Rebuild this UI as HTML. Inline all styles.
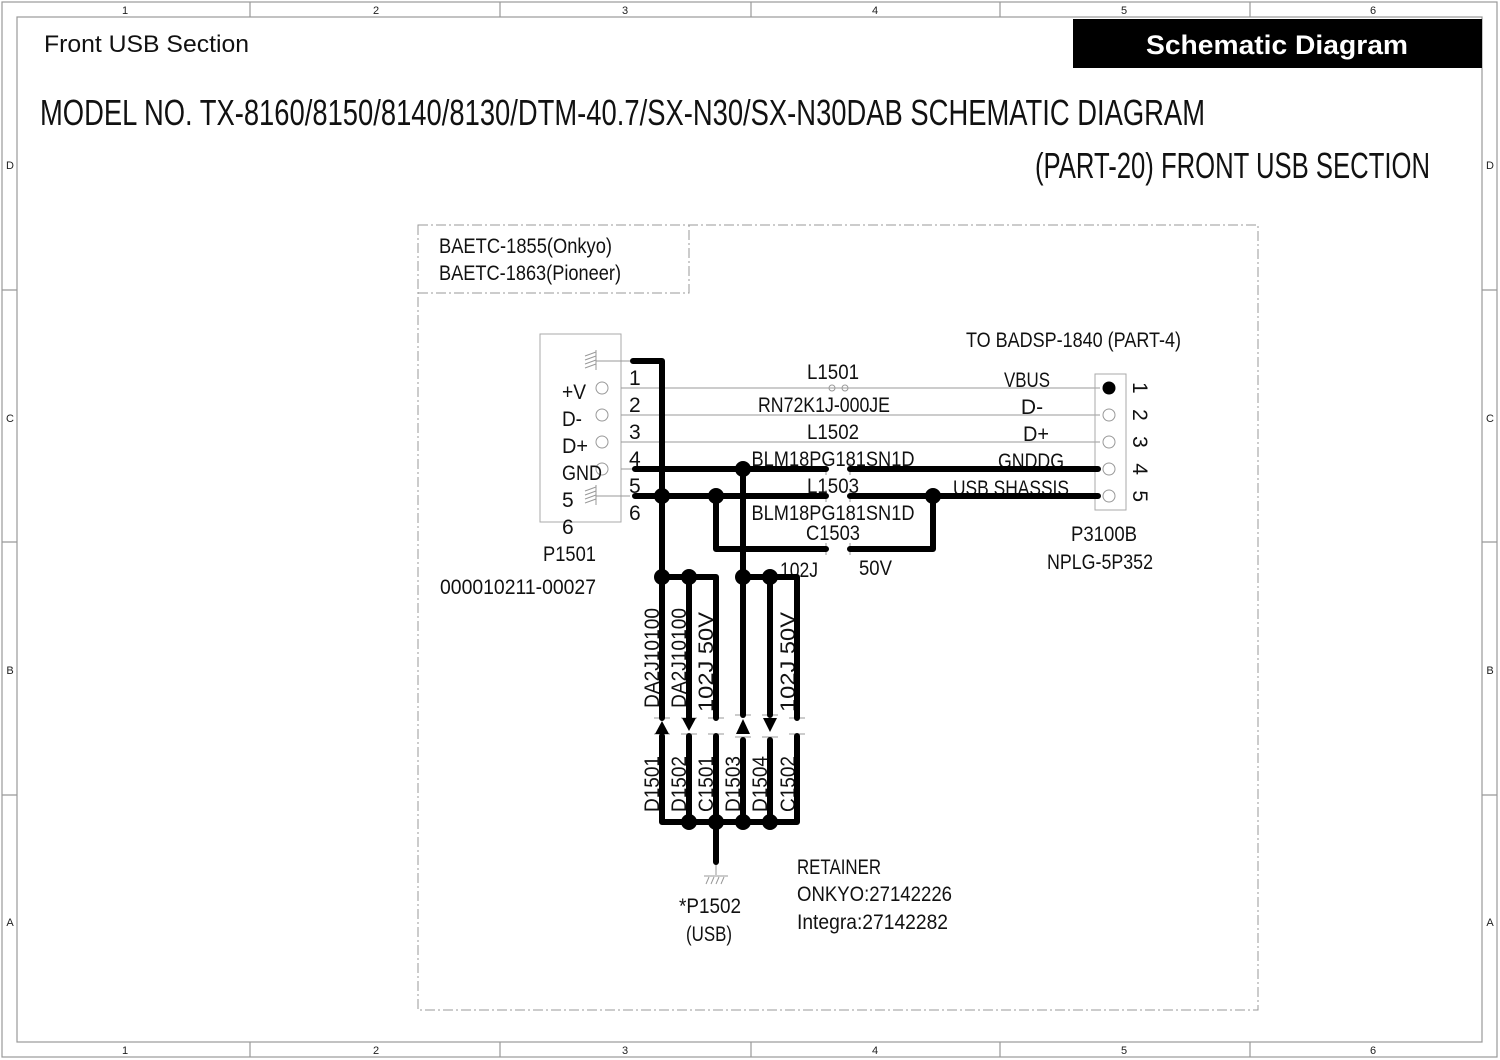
<!DOCTYPE html>
<html><head><meta charset="utf-8"><style>
html,body{margin:0;padding:0;background:#fff;}
svg{display:block;}
.n{font-family:"Liberation Sans Narrow","Liberation Sans",sans-serif;fill:#111;}
.s{font-family:"Liberation Sans",sans-serif;}
</style></head><body>
<svg width="1500" height="1060" viewBox="0 0 1500 1060" xmlns="http://www.w3.org/2000/svg">
<g fill="none" stroke="#999" stroke-width="1.2">
<rect x="2" y="2" width="1495" height="1055"/>
<rect x="17" y="17" width="1465" height="1025"/>
<path d="M250 2V17M500 2V17M751 2V17M1000 2V17M1250 2V17M250 1042V1057M500 1042V1057M751 1042V1057M1000 1042V1057M1250 1042V1057M2 290H17M2 542H17M2 795H17M1482 290H1497M1482 542H1497M1482 795H1497"/>
</g>
<g class="s" font-size="11" fill="#222" text-anchor="middle">
<text x="125" y="14">1</text><text x="376" y="14">2</text><text x="625" y="14">3</text><text x="875" y="14">4</text><text x="1124" y="14">5</text><text x="1373" y="14">6</text>
<text x="125" y="1054">1</text><text x="376" y="1054">2</text><text x="625" y="1054">3</text><text x="875" y="1054">4</text><text x="1124" y="1054">5</text><text x="1373" y="1054">6</text>
<text x="10" y="169">D</text><text x="10" y="422">C</text><text x="10" y="674">B</text><text x="10" y="926">A</text>
<text x="1490" y="169">D</text><text x="1490" y="422">C</text><text x="1490" y="674">B</text><text x="1490" y="926">A</text>
</g>
<text class="s" x="44" y="52" font-size="24" fill="#111" textLength="205" lengthAdjust="spacingAndGlyphs">Front USB Section</text>
<rect x="1073" y="19" width="409" height="49" fill="#000"/>
<text class="s" x="1277" y="54" font-size="27" font-weight="bold" fill="#fff" text-anchor="middle" textLength="262" lengthAdjust="spacingAndGlyphs">Schematic Diagram</text>
<text class="n" x="40" y="125" font-size="36" textLength="1165" lengthAdjust="spacingAndGlyphs">MODEL NO. TX-8160/8150/8140/8130/DTM-40.7/SX-N30/SX-N30DAB SCHEMATIC DIAGRAM</text>
<text class="n" x="1035" y="178" font-size="36" textLength="395" lengthAdjust="spacingAndGlyphs">(PART-20) FRONT USB SECTION</text>
<g fill="none" stroke="#999" stroke-width="1" stroke-dasharray="10,3,2,3">
<rect x="418" y="225" width="840" height="785"/>
<path d="M418 293H689V225"/>
</g>
<g class="n" font-size="21">
<text x="439" y="253" textLength="173" lengthAdjust="spacingAndGlyphs">BAETC-1855(Onkyo)</text>
<text x="439" y="280" textLength="182" lengthAdjust="spacingAndGlyphs">BAETC-1863(Pioneer)</text>
<text x="966" y="347" textLength="215" lengthAdjust="spacingAndGlyphs">TO BADSP-1840 (PART-4)</text>
</g>
<rect x="540" y="334" width="81" height="188" fill="none" stroke="#aaa"/>
<g fill="none" stroke="#999" stroke-width="1">
<circle cx="602" cy="388" r="6"/><circle cx="602" cy="415" r="6"/><circle cx="602" cy="442" r="6"/><circle cx="602" cy="469" r="6"/>
<path d="M596 352L585 356M596 356L585 360M596 360L585 364M596 364L585 368M596 350V370M596 361H630"/>
<path d="M596 487L585 491M596 491L585 495M596 495L585 499M596 499L585 503M596 485V505M596 496H630"/>
<path d="M621 388H1100M621 415H1100M621 442H1100M621 469H633"/>
<circle cx="832" cy="388" r="3"/><circle cx="845" cy="388" r="3"/>
<path d="M1095 374H1126V510H1095Z" stroke="#aaa"/>
<circle cx="1109" cy="415" r="6"/><circle cx="1109" cy="442" r="6"/><circle cx="1109" cy="469" r="6"/><circle cx="1109" cy="496" r="6"/>
<path d="M826 463V475M850 463V475M826 490V502M850 490V502M826 543V555M850 543V555"/>
<path d="M654 718H670M654 734H670M681 718H697M681 734H697M708 718H724M708 734H724M735 715H751M735 737H751M762 715H778M762 737H778M789 718H805M789 734H805"/>
<path d="M716 862V875M704 876H728M706 884L709 877M711 884L714 877M716 884L719 877M721 884L724 877"/>
</g>
<circle cx="1109" cy="388" r="6.5" fill="#000"/>
<g class="n" font-size="21">
<text x="562" y="399" textLength="24" lengthAdjust="spacingAndGlyphs">+V</text><text x="562" y="426" textLength="20" lengthAdjust="spacingAndGlyphs">D-</text><text x="562" y="453" textLength="26" lengthAdjust="spacingAndGlyphs">D+</text><text x="562" y="480" textLength="40" lengthAdjust="spacingAndGlyphs">GND</text><text x="562" y="507">5</text><text x="562" y="534">6</text>
<text x="629" y="385">1</text><text x="629" y="412">2</text><text x="629" y="439">3</text><text x="629" y="466">4</text><text x="629" y="493">5</text><text x="629" y="520">6</text>
<text x="543" y="561" textLength="53" lengthAdjust="spacingAndGlyphs">P1501</text>
<text x="440" y="594" textLength="156" lengthAdjust="spacingAndGlyphs">000010211-00027</text>
<text x="833" y="379" text-anchor="middle" textLength="52" lengthAdjust="spacingAndGlyphs">L1501</text>
<text x="824" y="412" text-anchor="middle" textLength="132" lengthAdjust="spacingAndGlyphs">RN72K1J-000JE</text>
<text x="833" y="439" text-anchor="middle" textLength="52" lengthAdjust="spacingAndGlyphs">L1502</text>
<text x="833" y="466" text-anchor="middle" textLength="163" lengthAdjust="spacingAndGlyphs">BLM18PG181SN1D</text>
<text x="833" y="493" text-anchor="middle" textLength="52" lengthAdjust="spacingAndGlyphs">L1503</text>
<text x="833" y="520" text-anchor="middle" textLength="163" lengthAdjust="spacingAndGlyphs">BLM18PG181SN1D</text>
<text x="833" y="540" text-anchor="middle" textLength="54" lengthAdjust="spacingAndGlyphs">C1503</text>
<text x="780" y="577" textLength="38" lengthAdjust="spacingAndGlyphs">102J</text><text x="859" y="575" textLength="33" lengthAdjust="spacingAndGlyphs">50V</text>
<text x="1027" y="387" text-anchor="middle" textLength="46" lengthAdjust="spacingAndGlyphs">VBUS</text>
<text x="1032" y="414" text-anchor="middle">D-</text>
<text x="1036" y="441" text-anchor="middle" textLength="26" lengthAdjust="spacingAndGlyphs">D+</text>
<text x="1031" y="468" text-anchor="middle" textLength="66" lengthAdjust="spacingAndGlyphs">GNDDG</text>
<text x="1011" y="495" text-anchor="middle" textLength="116" lengthAdjust="spacingAndGlyphs">USB  SHASSIS</text>
<text x="1104" y="541" text-anchor="middle" textLength="66" lengthAdjust="spacingAndGlyphs">P3100B</text>
<text x="1100" y="569" text-anchor="middle" textLength="106" lengthAdjust="spacingAndGlyphs">NPLG-5P352</text>
<text x="710" y="913" text-anchor="middle" textLength="62" lengthAdjust="spacingAndGlyphs">*P1502</text>
<text x="709" y="941" text-anchor="middle" textLength="46" lengthAdjust="spacingAndGlyphs">(USB)</text>
<text x="797" y="874" textLength="84" lengthAdjust="spacingAndGlyphs">RETAINER</text>
<text x="797" y="901" textLength="155" lengthAdjust="spacingAndGlyphs">ONKYO:27142226</text>
<text x="797" y="929" textLength="151" lengthAdjust="spacingAndGlyphs">Integra:27142282</text>
</g>
<g class="n" font-size="21" transform="rotate(90 1140 442)"><text x="1140" y="442" text-anchor="middle" dy="7" textLength="120" lengthAdjust="spacing">1 2 3 4 5</text></g>
<g class="n" font-size="21">
<text transform="translate(659,708) rotate(-90)" textLength="100" lengthAdjust="spacingAndGlyphs">DA2J10100</text>
<text transform="translate(686,708) rotate(-90)" textLength="100" lengthAdjust="spacingAndGlyphs">DA2J10100</text>
<text transform="translate(713,712) rotate(-90)" textLength="100" lengthAdjust="spacingAndGlyphs">102J  50V</text>
<text transform="translate(795,712) rotate(-90)" textLength="100" lengthAdjust="spacingAndGlyphs">102J  50V</text>
<text transform="translate(659,812) rotate(-90)" textLength="56" lengthAdjust="spacingAndGlyphs">D1501</text>
<text transform="translate(686,812) rotate(-90)" textLength="56" lengthAdjust="spacingAndGlyphs">D1502</text>
<text transform="translate(713,812) rotate(-90)" textLength="56" lengthAdjust="spacingAndGlyphs">C1501</text>
<text transform="translate(740,812) rotate(-90)" textLength="56" lengthAdjust="spacingAndGlyphs">D1503</text>
<text transform="translate(767,812) rotate(-90)" textLength="56" lengthAdjust="spacingAndGlyphs">D1504</text>
<text transform="translate(795,812) rotate(-90)" textLength="56" lengthAdjust="spacingAndGlyphs">C1502</text>
</g>
<g fill="none" stroke="#000" stroke-width="6" stroke-linecap="round" stroke-linejoin="round">
<path d="M633 361H662V718"/>
<path d="M635 469H826M850 469H1098"/>
<path d="M635 496H826M850 496H1098"/>
<path d="M716 496V549H826M850 549H933V496"/>
<path d="M743 469V715"/>
<path d="M662 577H716V718M689 577V718"/>
<path d="M743 577H797V718M770 577V715"/>
<path d="M662 736V822H797V736M689 736V822M716 736V862M743 740V822M770 740V822"/>
</g>
<g fill="#000">
<circle cx="662" cy="496" r="8"/><circle cx="716" cy="496" r="8"/><circle cx="743" cy="469" r="8"/><circle cx="933" cy="496" r="8"/>
<circle cx="662" cy="577" r="8"/><circle cx="689" cy="577" r="8"/><circle cx="743" cy="577" r="8"/><circle cx="770" cy="577" r="8"/>
<circle cx="689" cy="822" r="8"/><circle cx="716" cy="822" r="8"/><circle cx="743" cy="822" r="8"/><circle cx="770" cy="822" r="8"/>
<path d="M662 721L655 734H669Z"/><path d="M682 718H696L689 731Z"/><path d="M743 719L736 734H750Z"/><path d="M763 718H777L770 732Z"/>
</g>
</svg>
</body></html>
